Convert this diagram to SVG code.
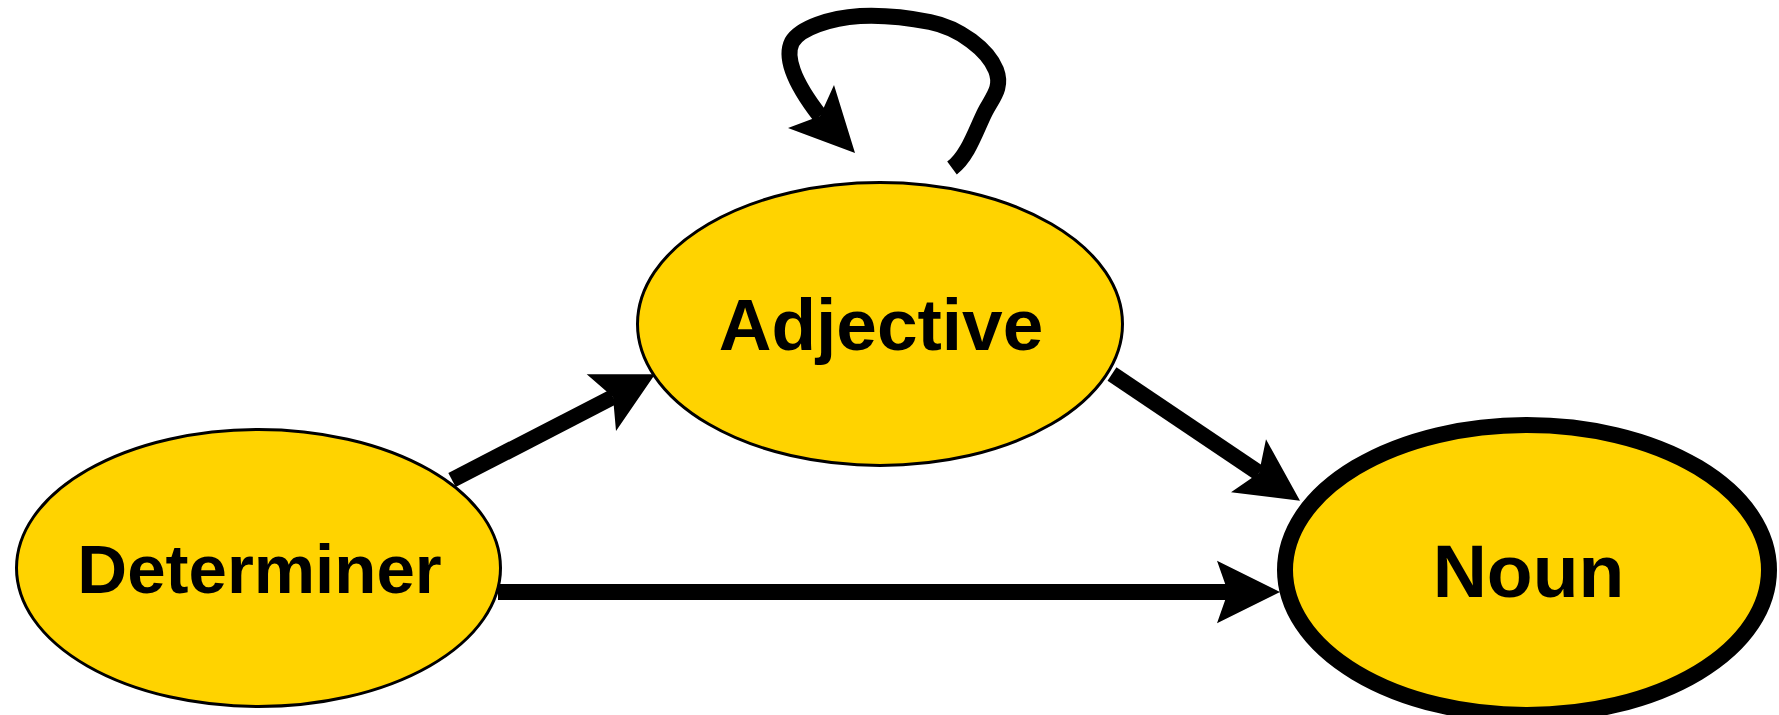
<svg xmlns="http://www.w3.org/2000/svg" width="1779" height="715" viewBox="0 0 1779 715">
<style>
.node ellipse{fill:#FFD300;stroke:#000}
.label{font-family:"Liberation Sans",Arial,sans-serif;font-weight:bold;fill:#000;text-anchor:middle}
.edge{fill:none;stroke:#000;stroke-width:16}
.head{fill:#000;stroke:none}
</style>
<rect width="1779" height="715" fill="#fff"/>
<g id="node-determiner" class="node">
<ellipse cx="258.5" cy="568" rx="242" ry="138.5" stroke-width="3"/>
<text class="label" x="259.5" y="593" font-size="69">Determiner</text>
</g>
<g id="node-adjective" class="node">
<ellipse cx="880" cy="324" rx="242.5" ry="141.5" stroke-width="3"/>
<text class="label" x="881" y="350" font-size="73">Adjective</text>
</g>
<g id="node-noun" class="node">
<ellipse cx="1527" cy="570" rx="242" ry="145" stroke-width="16"/>
<text class="label" x="1528.5" y="597" font-size="75">Noun</text>
</g>
<g id="connectors">
<g id="edge-det-adj">
<path class="edge" d="M452,480 L613,397"/>
<polygon class="head" points="655,374.3 586.7,374.3 613,397 616,431"/>
</g>
<g id="edge-adj-noun">
<path class="edge" d="M1112,374 L1259,473"/>
<polygon class="head" points="1300,500.7 1266,439.3 1259,473 1231,492.3"/>
</g>
<g id="edge-det-noun">
<path class="edge" d="M498,592 L1228,592"/>
<polygon class="head" points="1280,592 1217,560.7 1228,592 1217,623.3"/>
</g>
<g id="edge-adj-adj">
<path class="edge" d="M952,168 C968,156 976,130 985,112 C992,98 1003,88 996,70 C988,50 960,28 930,22 C905,17 880,15 860,16 C830,18 800,28 792,42 C785,56 792,80 820,116"/>
<polygon class="head" points="855,153 834,85 820,116 788,128"/>
</g>
</g>
</svg>
